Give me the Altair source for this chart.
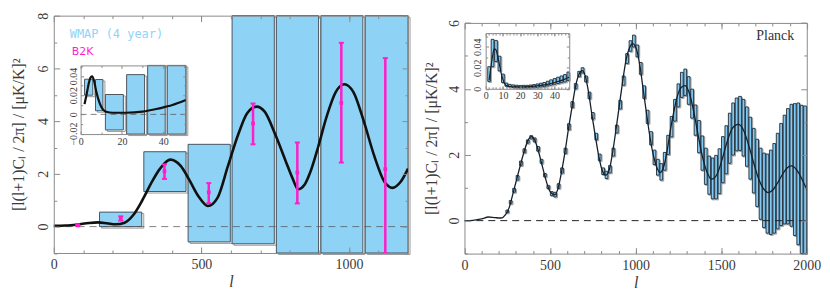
import altair as alt
import pandas as pd

W, H = 757, 240
FRAME = "#8a8a8a"
LABEL = "#3a3a3a"
SERIF = "Liberation Serif"
BLUE = "#8ed3f6"
MAGENTA = "#ff1ec8"

# ---------------- left panel: WMAP (4 year) + B2K ----------------
curveL_l = [0, 40, 80, 120, 150, 180, 210, 240, 270, 300, 330, 360, 395, 430, 460, 490,
            522, 555, 590, 625, 655, 687, 715, 750, 785, 810, 827, 850, 870, 895, 925,
            955, 984, 1015, 1050, 1085, 1120, 1147, 1175, 1200]
curveL_v = [0.03, 0.04, 0.08, 0.14, 0.16, 0.13, 0.09, 0.15, 0.45, 1.0, 1.65, 2.2, 2.54,
            2.3, 1.75, 1.15, 0.78, 1.1, 2.3, 3.5, 4.3, 4.55, 4.35, 3.5, 2.5, 1.8, 1.42,
            1.6, 2.1, 3.0, 4.2, 5.1, 5.4, 5.1, 4.0, 2.7, 1.7, 1.47, 1.7, 2.2]

wmap_lo = [155, 305, 455, 604, 754, 905, 1055]
wmap_hi = [298, 448, 598, 747, 897, 1047, 1210]
wmap_top = [0.55, 2.84, 3.12, 12, 12, 12, 12]
wmap_bot = [0.0, 1.33, -0.58, -0.65, -2, -2, -2]

b2k_l = [81, 227, 375, 525, 675, 825, 974, 1123]
b2k_v = [0.05, 0.31, 2.10, 1.30, 3.91, 2.05, 4.69, 2.18]
b2k_hi = [0.08, 0.39, 2.36, 1.65, 4.67, 3.19, 6.97, 6.39]
b2k_lo = [0.02, 0.23, 1.81, 0.89, 3.12, 0.88, 2.43, -2.0]

# left inset (low multipoles)
insL_lo = [1.9, 7.2, 12.0, 22.3, 32.5, 42.0]
insL_hi = [5.9, 10.8, 20.7, 31.0, 41.0, 53.0]
insL_top = [0.0366, 0.0363, 0.0207, 0.0414, 0.06, 0.06]
insL_bot = [0.0200, 0.0038, -0.0162, -0.03, -0.03, -0.03]
insLc_l = [1.9, 3, 4, 5, 5.6, 6.5, 7.6, 9, 10, 11, 12.4, 15.6, 22, 30, 38, 44.5, 51]
insLc_v = [0.0107, 0.022, 0.033, 0.039, 0.0397, 0.035, 0.0235, 0.013, 0.0079, 0.0045,
           0.0028, 0.0017, 0.0017, 0.0028, 0.0062, 0.0097, 0.0149]

# ---------------- right panel: Planck ----------------
curveR_l = [0, 50, 100, 140, 180, 215, 240, 260, 280, 300, 325, 350, 370, 390, 410, 430,
            450, 470, 490, 510, 528, 548, 568, 588, 608, 630, 650, 670, 688, 705, 725,
            745, 765, 785, 805, 825, 845, 865, 885, 905, 925, 945, 965, 983, 1005, 1025,
            1045, 1065, 1085, 1105, 1125, 1143, 1165, 1185, 1205, 1225, 1245, 1268, 1290,
            1315, 1340, 1365, 1390, 1415, 1444, 1475, 1505, 1535, 1565, 1600, 1630, 1660,
            1690, 1720, 1750, 1775, 1800, 1830, 1860, 1885, 1910, 1940, 1970, 2000]
curveR_v = [0.0, 0.01, 0.05, 0.11, 0.09, 0.08, 0.18, 0.38, 0.75, 1.15, 1.65, 2.12, 2.42,
            2.55, 2.45, 2.15, 1.75, 1.35, 1.0, 0.82, 0.78, 1.0, 1.5, 2.1, 2.8, 3.5, 4.1,
            4.45, 4.55, 4.4, 3.9, 3.2, 2.55, 1.95, 1.52, 1.38, 1.52, 2.05, 2.75, 3.5, 4.25,
            4.9, 5.25, 5.37, 5.2, 4.7, 3.95, 3.2, 2.5, 1.95, 1.6, 1.46, 1.65, 2.15, 2.8,
            3.35, 3.8, 4.05, 4.1, 3.85, 3.3, 2.6, 1.95, 1.5, 1.26, 1.4, 1.85, 2.4, 2.8,
            2.92, 2.75, 2.3, 1.75, 1.25, 0.95, 0.85, 0.92, 1.15, 1.42, 1.6, 1.66, 1.55,
            1.28, 0.94]

planck_l = list(range(250, 2000, 20))
planck_mid = [0.28, 0.56, 0.92, 1.30, 1.74, 2.12, 2.40, 2.53, 2.45, 2.18, 1.80, 1.38, 1.02,
              0.82, 0.79, 1.05, 1.52, 2.12,
              2.85, 3.52, 4.08, 4.45, 4.56, 4.30, 3.80, 3.18, 2.55, 1.92, 1.50, 1.39, 1.56,
              2.08, 2.78,
              3.52, 4.25, 4.92, 5.30, 5.45, 5.15, 4.62, 3.90, 3.15, 2.50,
              1.92, 1.62, 1.48, 1.80, 2.30, 2.85, 3.35, 3.80, 4.12, 4.20,
              3.95, 3.55, 3.05, 2.55, 2.05, 1.65, 1.38, 1.28, 1.32, 1.50,
              1.85, 2.15, 2.50, 2.78, 2.92, 2.95, 2.82, 2.55, 2.20, 1.82,
              1.45, 1.12, 0.92, 0.82, 0.86, 0.98, 1.20, 1.40, 1.55, 1.65,
              1.68, 1.55, 1.42, 1.20, 0.98]
planck_err = [0.04, 0.05, 0.06, 0.07, 0.07, 0.06, 0.05, 0.05, 0.06, 0.07, 0.06, 0.05, 0.05,
              0.06, 0.07, 0.07, 0.08, 0.08,
              0.09, 0.09, 0.08, 0.08, 0.08, 0.09, 0.10, 0.10, 0.10, 0.10, 0.10, 0.11, 0.11,
              0.12, 0.12,
              0.13, 0.14, 0.15, 0.16, 0.18, 0.18, 0.18, 0.19, 0.20, 0.20,
              0.22, 0.24, 0.25, 0.27, 0.29, 0.31, 0.33, 0.35, 0.38, 0.40,
              0.42, 0.44, 0.46, 0.49, 0.52, 0.55, 0.58, 0.62, 0.66, 0.68,
              0.70, 0.73, 0.76, 0.79, 0.80, 0.82, 0.86, 0.90, 0.94, 0.98,
              1.02, 1.08, 1.13, 1.20, 1.28, 1.36, 1.45, 1.55, 1.65, 1.75,
              1.85, 2.0, 2.15, 2.3, 2.5]

# right inset (low multipoles)
insR_l = [2, 4, 6, 8, 10, 12, 14, 16, 18, 20, 22, 24, 26, 28, 30, 32, 34, 36, 38, 40, 42,
          44, 46, 48]
insR_mid = [0.014, 0.034, 0.036, 0.024, 0.010, 0.004, 0.003, 0.0025, 0.0022, 0.002,
            0.002, 0.002, 0.0022, 0.0025, 0.003, 0.0035, 0.004, 0.005, 0.006, 0.007,
            0.008, 0.009, 0.010, 0.012]
insR_err = [0.007, 0.013, 0.010, 0.007, 0.004, 0.0015, 0.0012, 0.0012, 0.0012, 0.0012,
            0.0013, 0.0013, 0.0014, 0.0015, 0.0016, 0.0018, 0.002, 0.0022, 0.0025,
            0.0027, 0.003, 0.0032, 0.0035, 0.004]
insRc_l = [2, 3, 4, 5, 6, 7, 8, 9, 10, 11, 12, 14, 17, 20, 25, 30, 35, 40, 45, 48.5]
insRc_v = [0.008, 0.02, 0.031, 0.038, 0.037, 0.031, 0.023, 0.015, 0.009, 0.005, 0.003,
           0.0022, 0.0018, 0.0018, 0.002, 0.0028, 0.004, 0.006, 0.0085, 0.011]

# ---------------- layout (pixel ranges inside one canvas) ----------------
PAN = {
    "L": dict(xd=[0, 1200], xr=[0, 356], yd=[-1, 8], yr=[238.5, 0]),
    "R": dict(xd=[0, 2000], xr=[412.7, 756.7], yd=[-1, 6], yr=[239.1, 7.3]),
    "LI": dict(xd=[0, 51], xr=[27, 132.7], yd=[-0.0205, 0.051], yr=[119, 50]),
    "RI": dict(xd=[0, 48.5], xr=[434, 518], yd=[0, 0.053], yr=[73.5, 17.5]),
}


def S(dom, rng):
    return alt.Scale(domain=dom, range=rng, nice=False, zero=False, clamp=True)


def enc(p, x, y, x2=None, y2=None):
    P = PAN[p]
    e = dict(x=alt.X(x, type="quantitative", scale=S(P["xd"], P["xr"]), axis=None),
             y=alt.Y(y, type="quantitative", scale=S(P["yd"], P["yr"]), axis=None))
    if x2:
        e["x2"] = alt.X2(x2)
    if y2:
        e["y2"] = alt.Y2(y2)
    return e


def axis_layers(p, xmaj, xmin, ymaj, ymin, tmaj, tmin, fs, xpad, ypad,
                xtitle=None, ytitle=None, xtpad=0, ytpad=0, tfs=16):
    P = PAN[p]
    x0, x1 = P["xr"]
    yb, yt = P["yr"]
    df = pd.DataFrame({"x": [P["xd"][0]], "y": [P["yd"][0]]})

    def lay(ax, ay):
        return alt.Chart(df).mark_point(opacity=0).encode(
            x=alt.X("x:Q", scale=S(P["xd"], P["xr"]), axis=ax),
            y=alt.Y("y:Q", scale=S(P["yd"], P["yr"]), axis=ay))

    tk = dict(grid=False, labels=False, tickColor=FRAME, tickWidth=1,
              domainColor=FRAME, domainWidth=1, title=None, zindex=2)
    lab = dict(ticks=False, domain=False, grid=False, labelFontSize=fs,
               labelFlush=False, labelOverlap=False, format="~r")
    xl = dict(orient="bottom", offset=-(H - yb), values=xmaj, labelPadding=xpad, **lab)
    if xtitle:
        xl.update(title=xtitle, titlePadding=xtpad, titleFontStyle="italic",
                  titleFontSize=tfs)
    else:
        xl.update(title=None)
    yl = dict(orient="left", offset=-x0, values=ymaj, labelPadding=ypad,
              labelAngle=270, labelAlign="center", labelBaseline="bottom", **lab)
    if ytitle:
        yl.update(title=ytitle, titlePadding=ytpad, titleFontSize=tfs)
    else:
        yl.update(title=None)
    out = [lay(alt.Axis(**xl), alt.Axis(**yl))]
    # inward ticks + frame: bottom & left edges
    out.append(lay(alt.Axis(orient="top", offset=-yb, values=xmaj, tickSize=tmaj, domain=True, **tk),
                   alt.Axis(orient="right", offset=-(W - x0), values=ymaj, tickSize=tmaj, domain=True, **tk)))
    # top & right edges
    out.append(lay(alt.Axis(orient="bottom", offset=-(H - yt), values=xmaj, tickSize=tmaj, domain=True, **tk),
                   alt.Axis(orient="left", offset=-x1, values=ymaj, tickSize=tmaj, domain=True, **tk)))
    # minor ticks
    out.append(lay(alt.Axis(orient="top", offset=-yb, values=xmin, tickSize=tmin, domain=False, **tk),
                   alt.Axis(orient="right", offset=-(W - x0), values=ymin, tickSize=tmin, domain=False, **tk)))
    out.append(lay(alt.Axis(orient="bottom", offset=-(H - yt), values=xmin, tickSize=tmin, domain=False, **tk),
                   alt.Axis(orient="left", offset=-x1, values=ymin, tickSize=tmin, domain=False, **tk)))
    return out


YTITLE = "[l(l+1)Cₗ / 2π] / [μK/K]²"
layers = []

# ---- left main ----
dfW = pd.DataFrame(dict(lo=wmap_lo, hi=wmap_hi, top=wmap_top, bot=wmap_bot))
layers.append(alt.Chart(dfW).mark_rect(fill="white", fillOpacity=0, stroke="#9a9a9a", strokeWidth=1,
                                       xOffset=2, x2Offset=2, yOffset=1.5, y2Offset=1.5)
              .encode(**enc("L", "lo", "top", "hi", "bot")))
layers.append(alt.Chart(dfW).mark_rect(fill=BLUE, stroke="#4a5560", strokeWidth=1)
              .encode(**enc("L", "lo", "top", "hi", "bot")))
zL = pd.DataFrame(dict(a=[0], b=[1200], v=[0]))
layers.append(alt.Chart(zL).mark_rule(color="#555", strokeDash=[7, 5], strokeWidth=1, opacity=0.75)
              .encode(**enc("L", "a", "v", "b")))
dfCL = pd.DataFrame(dict(l=curveL_l, v=curveL_v))
layers.append(alt.Chart(dfCL).mark_line(color="#111", strokeWidth=2.6, interpolate="monotone")
              .encode(**enc("L", "l", "v")))
dfB = pd.DataFrame(dict(l=b2k_l, v=b2k_v, hi=b2k_hi, lo=b2k_lo))
layers.append(alt.Chart(dfB).mark_rule(color=MAGENTA, strokeWidth=2.5)
              .encode(**enc("L", "l", "lo", y2="hi")))
layers.append(alt.Chart(dfB).mark_point(shape="M-1,0L1,0", size=25, strokeWidth=2, color=MAGENTA,
                                        filled=False, opacity=1).encode(**enc("L", "l", "hi")))
layers.append(alt.Chart(dfB).mark_point(shape="M-1,0L1,0", size=25, strokeWidth=2, color=MAGENTA,
                                        filled=False, opacity=1).encode(**enc("L", "l", "lo")))
layers.append(alt.Chart(dfB).mark_point(shape="square", size=14, color=MAGENTA, filled=True, opacity=1)
              .encode(**enc("L", "l", "v")))

# ---- left inset ----
dfIL = pd.DataFrame(dict(lo=insL_lo, hi=insL_hi, top=insL_top, bot=insL_bot))
layers.append(alt.Chart(dfIL).mark_rect(fill="white", fillOpacity=0, stroke="#9a9a9a", strokeWidth=1,
                                        xOffset=2, x2Offset=2, yOffset=1.5, y2Offset=1.5)
              .encode(**enc("LI", "lo", "top", "hi", "bot")))
layers.append(alt.Chart(dfIL).mark_rect(fill=BLUE, stroke="#4a5560", strokeWidth=1)
              .encode(**enc("LI", "lo", "top", "hi", "bot")))
zLI = pd.DataFrame(dict(a=[0], b=[51], v=[0]))
layers.append(alt.Chart(zLI).mark_rule(color="#555", strokeDash=[6, 4], strokeWidth=1, opacity=0.75)
              .encode(**enc("LI", "a", "v", "b")))
dfCLI = pd.DataFrame(dict(l=insLc_l, v=insLc_v))
layers.append(alt.Chart(dfCLI).mark_line(color="#111", strokeWidth=2.2, interpolate="monotone")
              .encode(**enc("LI", "l", "v")))

# ---- right main ----
dfP = pd.DataFrame(dict(l=planck_l, mid=planck_mid, err=planck_err))
dfP["lo"] = dfP["l"] - 8
dfP["hi"] = dfP["l"] + 8
dfP["top"] = dfP["mid"] + dfP["err"]
dfP["bot"] = dfP["mid"] - dfP["err"]
layers.append(alt.Chart(dfP).mark_rect(fill="white", fillOpacity=0, stroke="#a0a0a0", strokeWidth=1,
                                       xOffset=1, x2Offset=1, yOffset=1, y2Offset=1)
              .encode(**enc("R", "lo", "top", "hi", "bot")))
layers.append(alt.Chart(dfP).mark_rect(fill="#84cbf3", stroke="#1f2a36", strokeWidth=0.9)
              .encode(**enc("R", "lo", "top", "hi", "bot")))
zR = pd.DataFrame(dict(a=[0], b=[2000], v=[0]))
layers.append(alt.Chart(zR).mark_rule(color="#222", strokeDash=[7, 5], strokeWidth=1)
              .encode(**enc("R", "a", "v", "b")))
dfCR = pd.DataFrame(dict(l=curveR_l, v=curveR_v))
layers.append(alt.Chart(dfCR).mark_line(color="#15202b", strokeWidth=1.3, interpolate="monotone")
              .encode(**enc("R", "l", "v")))

# ---- right inset ----
dfIR = pd.DataFrame(dict(l=insR_l, mid=insR_mid, err=insR_err))
dfIR["lo"] = dfIR["l"] - 0.8
dfIR["hi"] = dfIR["l"] + 0.8
dfIR["top"] = dfIR["mid"] + dfIR["err"]
dfIR["bot"] = dfIR["mid"] - dfIR["err"]
layers.append(alt.Chart(dfIR).mark_rect(fill="white", fillOpacity=0, stroke="#a0a0a0", strokeWidth=1,
                                        xOffset=1, x2Offset=1, yOffset=1, y2Offset=1)
              .encode(**enc("RI", "lo", "top", "hi", "bot")))
layers.append(alt.Chart(dfIR).mark_rect(fill="#84cbf3", stroke="#1f2a36", strokeWidth=0.9)
              .encode(**enc("RI", "lo", "top", "hi", "bot")))
dfCRI = pd.DataFrame(dict(l=insRc_l, v=insRc_v))
layers.append(alt.Chart(dfCRI).mark_line(color="#15202b", strokeWidth=1.2, interpolate="monotone")
              .encode(**enc("RI", "l", "v")))

# ---- annotations (data coordinates) ----
tW = pd.DataFrame(dict(l=[54], v=[7.32], t=["WMAP (4 year)"]))
layers.append(alt.Chart(tW).mark_text(align="left", baseline="middle", font="DejaVu Sans Mono",
                                      fontSize=12, color="#8fd4f8")
              .encode(text="t:N", **enc("L", "l", "v")))
tB = pd.DataFrame(dict(l=[61], v=[6.64], t=["B2K"]))
layers.append(alt.Chart(tB).mark_text(align="left", baseline="middle", font="DejaVu Sans",
                                      fontSize=11, color=MAGENTA)
              .encode(text="t:N", **enc("L", "l", "v")))
tP = pd.DataFrame(dict(l=[1816], v=[5.59], t=["Planck"]))
layers.append(alt.Chart(tP).mark_text(align="center", baseline="middle", font=SERIF,
                                      fontSize=14, color="#333")
              .encode(text="t:N", **enc("R", "l", "v")))

# ---- axes & frames ----
layers += axis_layers("L", [0, 500, 1000], list(range(100, 1200, 100)),
                      [0, 2, 4, 6, 8], [-1, 1, 3, 5, 7], 6, 3, 14, 5, 3,
                      xtitle="l", ytitle=YTITLE, xtpad=2, ytpad=10)
layers += axis_layers("R", [0, 500, 1000, 1500, 2000], list(range(100, 2000, 100)),
                      [0, 2, 4, 6], [-1, 1, 3, 5], 6, 3, 14, 5, 3,
                      xtitle="l", ytitle=YTITLE, xtpad=2, ytpad=8)
layers += axis_layers("LI", [0, 20, 40], [10, 30, 50],
                      [-0.02, 0, 0.02, 0.04], [-0.01, 0.01, 0.03, 0.05], 3, 2, 10, 2, 2)
layers += axis_layers("RI", [0, 10, 20, 30, 40], list(range(2, 49, 2)),
                      [0, 0.02, 0.04], [0.01, 0.03, 0.05], 3, 2, 10, 2, 3)

chart = (alt.layer(*layers)
         .resolve_scale(x="independent", y="independent")
         .resolve_axis(x="independent", y="independent")
         .properties(width=W, height=H, autosize=alt.AutoSizeParams(type="none"),
                     padding={"left": 46, "top": 7, "right": 15, "bottom": 35},
                     background="white")
         .configure_view(strokeWidth=0)
         .configure_axis(labelFont=SERIF, titleFont=SERIF, labelColor=LABEL,
                         titleColor=LABEL, titleFontWeight="normal"))

chart.save("out.html", embed_options={"renderer": "svg", "actions": False})
